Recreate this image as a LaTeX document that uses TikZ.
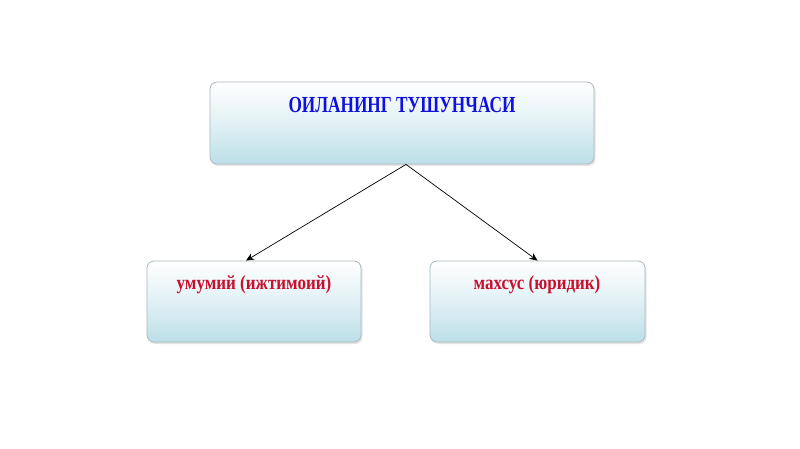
\documentclass[tikz,border=0pt]{standalone}
\usepackage{fontspec}
\setmainfont{Liberation Serif}
\usetikzlibrary{shadows,arrows.meta,calc}
\definecolor{boxtop}{HTML}{FFFFFF}
\definecolor{boxbot}{HTML}{BCDFE8}
\definecolor{boxline}{HTML}{A9B8C0}
\definecolor{titleblue}{HTML}{1010E0}
\definecolor{labelred}{HTML}{C8102E}
\tikzset{
  box/.style={draw=boxline, line width=0.8pt, rounded corners=7pt,
    top color=boxtop, bottom color=boxbot, middle color=boxtop!55!boxbot,
    drop shadow={shadow xshift=1.5pt, shadow yshift=-2pt, opacity=0.35, fill=gray!60}},
  titletxt/.style={font=\bfseries\fontsize{23}{26}\selectfont, text=titleblue, inner sep=0pt},
  labeltxt/.style={font=\bfseries\fontsize{20}{23}\selectfont, text=labelred, inner sep=0pt},
  conn/.style={-{Stealth[length=8pt,width=7pt]}, line width=0.7pt, black}
}
\begin{document}
\begin{tikzpicture}[x=1pt,y=-1pt]
\useasboundingbox[fill=white] (0,0) rectangle (800,449);
\node[box, minimum width=384pt, minimum height=82pt] (top) at (402,123) {};
\node[box, minimum width=214pt, minimum height=81pt] (left) at (254,301.5) {};
\node[box, minimum width=215pt, minimum height=81pt] (right) at (537.5,301.5) {};
\node[titletxt, xscale=0.75] (ttop) at (402,105) {ОИЛАНИНГ ТУШУНЧАСИ};
\node[labeltxt, xscale=0.85] (tleft) at (254,285) {умумий (ижтимоий)};
\node[labeltxt, xscale=0.85] (tright) at (537,285) {махсус (юридик)};
\coordinate (src) at ($(top.south)+(4,0)$);
\draw[conn] (src) -- ($(left.north)+(-8,0)$);
\draw[conn] (src) -- (right.north);
\end{tikzpicture}
\end{document}
